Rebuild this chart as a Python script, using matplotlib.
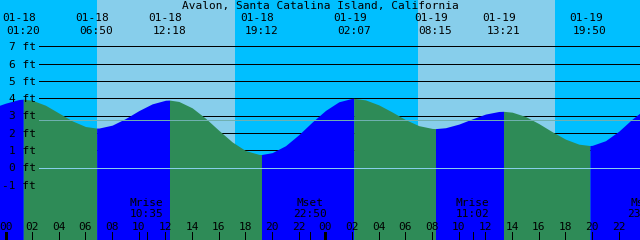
"""
Avalon tide chart (2 days) - recreated with matplotlib
"""

import matplotlib
matplotlib.use("Agg")
import matplotlib.pyplot as plt
from matplotlib.transforms import blended_transform_factory


# =========================
# 1. data
# =========================
title = "Avalon, Santa Catalina Island, California"

# high / low tides
tide_dates = ["01-18", "01-18", "01-18", "01-18", "01-19", "01-19", "01-19", "01-19"]
tide_times = ["01:20", "06:50", "12:18", "19:12", "02:07", "08:15", "13:21", "19:50"]
tide_heights = [3.95, 2.28, 3.90, 0.75, 4.00, 2.25, 3.25, 1.27]

# tide height, every hour from -1 (01-17 23:00) to 48
hourly_start = -1
hourly_heights = [
    3.45, 3.72, 3.93, 3.89, 3.60, 3.15, 2.70, 2.37, 2.28, 2.45,
    2.83, 3.29, 3.68, 3.89, 3.82, 3.45, 2.85, 2.15, 1.48, 0.98,
    0.76, 0.86, 1.26, 1.90, 2.63, 3.30, 3.80, 4.00, 3.91, 3.62,
    3.21, 2.77, 2.42, 2.26, 2.30, 2.51, 2.81, 3.09, 3.24, 3.20,
    2.95, 2.54, 2.07, 1.64, 1.35, 1.28, 1.55, 2.10, 2.80, 3.40,
]

# daylight (sunrise, sunset)
sun_dates = ["01-18", "01-19"]
sunrise = ["06:54", "06:57"]
sunset = ["17:14", "17:14"]

# moon rise / set
moon_dates = ["01-18", "01-18", "01-19", "01-19"]
moon_kinds = ["Mrise", "Mset", "Mrise", "Mset"]
moon_times = ["10:35", "22:50", "11:02", "23:54"]

ft_levels = [-1, 0, 1, 2, 3, 4, 5, 6, 7]
msl = 2.72

# =========================
# 2. helpers
# =========================
PX_PER_HOUR = 13.333
X0_PX = 5.5          # pixel of 01-18 00:00
PX_PER_FT = 17.29
Y0_PX = 167.5        # pixel row (from top) of 0 ft
W, H = 640, 240
LW1 = 0.7            # one pixel line


def to_hours(date, hm):
    day = int(date[-2:]) - 18
    hh, mm = hm.split(":")
    return 24 * day + int(hh) + int(mm) / 60


def py(px_from_top):
    # pixel row from top -> axes fraction
    return 1 - px_from_top / H


# =========================
# 3. figure
# =========================
fig = plt.figure(figsize=(W / 100, H / 100), dpi=100)
ax = fig.add_axes([0, 0, 1, 1])
ax.set_xlim(-X0_PX / PX_PER_HOUR, (W - X0_PX) / PX_PER_HOUR)
ax.set_ylim((Y0_PX - H) / PX_PER_FT, Y0_PX / PX_PER_FT)
ax.axis("off")

xdata_yaxes = blended_transform_factory(ax.transData, ax.transAxes)
xaxes_ydata = blended_transform_factory(ax.transAxes, ax.transData)

# sky: night / day
ax.axvspan(ax.get_xlim()[0], ax.get_xlim()[1], color="#00bfff", lw=0, zorder=0)
for d, r, s in zip(sun_dates, sunrise, sunset):
    ax.axvspan(to_hours(d, r), to_hours(d, s), color="#87ceeb", lw=0, zorder=0)

# foot grid lines (behind the water)
line_start = 39 / W
for lv in ft_levels:
    if lv > 0:
        ax.axhline(lv, xmin=line_start, color="black", lw=LW1, zorder=1,
                   antialiased=False)

# tide curve
tide_hours = [to_hours(d, t) for d, t in zip(tide_dates, tide_times)]
pts = [(hourly_start + i, v) for i, v in enumerate(hourly_heights)]
pts += list(zip(tide_hours, tide_heights))
pts.sort()
t_all = [p[0] for p in pts]
v_all = [p[1] for p in pts]

bounds = [t_all[0]] + tide_hours + [t_all[-1]]
for a, b in zip(bounds[:-1], bounds[1:]):
    seg_t = [t for t in t_all if a <= t <= b]
    seg_v = [v for t, v in zip(t_all, v_all) if a <= t <= b]
    falling = seg_v[-1] < seg_v[0]
    ax.fill_between(seg_t, ax.get_ylim()[0], seg_v,
                    color="#2e8b57" if falling else "#0000ff",
                    lw=0, zorder=2)

# mean sea level and datum lines
ax.axhline(msl, xmin=line_start, color="#6fb0b0", lw=LW1, zorder=3,
           antialiased=False)
ax.axhline(0, xmin=line_start, color="#87ceeb", lw=LW1, zorder=3,
           antialiased=False)

font = dict(family="DejaVu Sans Mono", fontsize=8, color="black", zorder=5)

# y labels
for lv in ft_levels:
    ax.text(36 / W, lv - 3.8 / PX_PER_FT, f"{lv} ft", transform=xaxes_ydata,
            ha="right", va="baseline", **font)

# title
ax.text(0.5, py(9.5), title, transform=ax.transAxes,
        ha="center", va="baseline", **font)

# tide labels at top
for d, t, h in zip(tide_dates, tide_times, tide_hours):
    ax.text(h - 4 / PX_PER_HOUR, py(21), d, transform=xdata_yaxes,
            ha="center", va="baseline", **font)
    ax.text(h, py(33.5), t, transform=xdata_yaxes,
            ha="center", va="baseline", **font)

# hour ticks at bottom
tick_len = 8 / H
for hr in range(0, 48, 2):
    ax.plot([hr, hr], [0, tick_len], transform=xdata_yaxes, color="black",
            lw=2.16 if hr % 24 == 0 else LW1, solid_capstyle="butt",
            antialiased=False, zorder=4)
    ax.text(hr, py(229.5), f"{hr % 24:02d}", transform=xdata_yaxes,
            ha="center", va="baseline", **font)

# moon rise / set
for d, k, t in zip(moon_dates, moon_kinds, moon_times):
    h = to_hours(d, t)
    ax.plot([h, h], [0, tick_len], transform=xdata_yaxes, color="black",
            lw=LW1, solid_capstyle="butt", antialiased=False, zorder=4)
    ax.text(h, py(206), k, transform=xdata_yaxes,
            ha="center", va="baseline", **font)
    ax.text(h, py(217), t, transform=xdata_yaxes,
            ha="center", va="baseline", **font)

fig.savefig("out.png", dpi=100)
